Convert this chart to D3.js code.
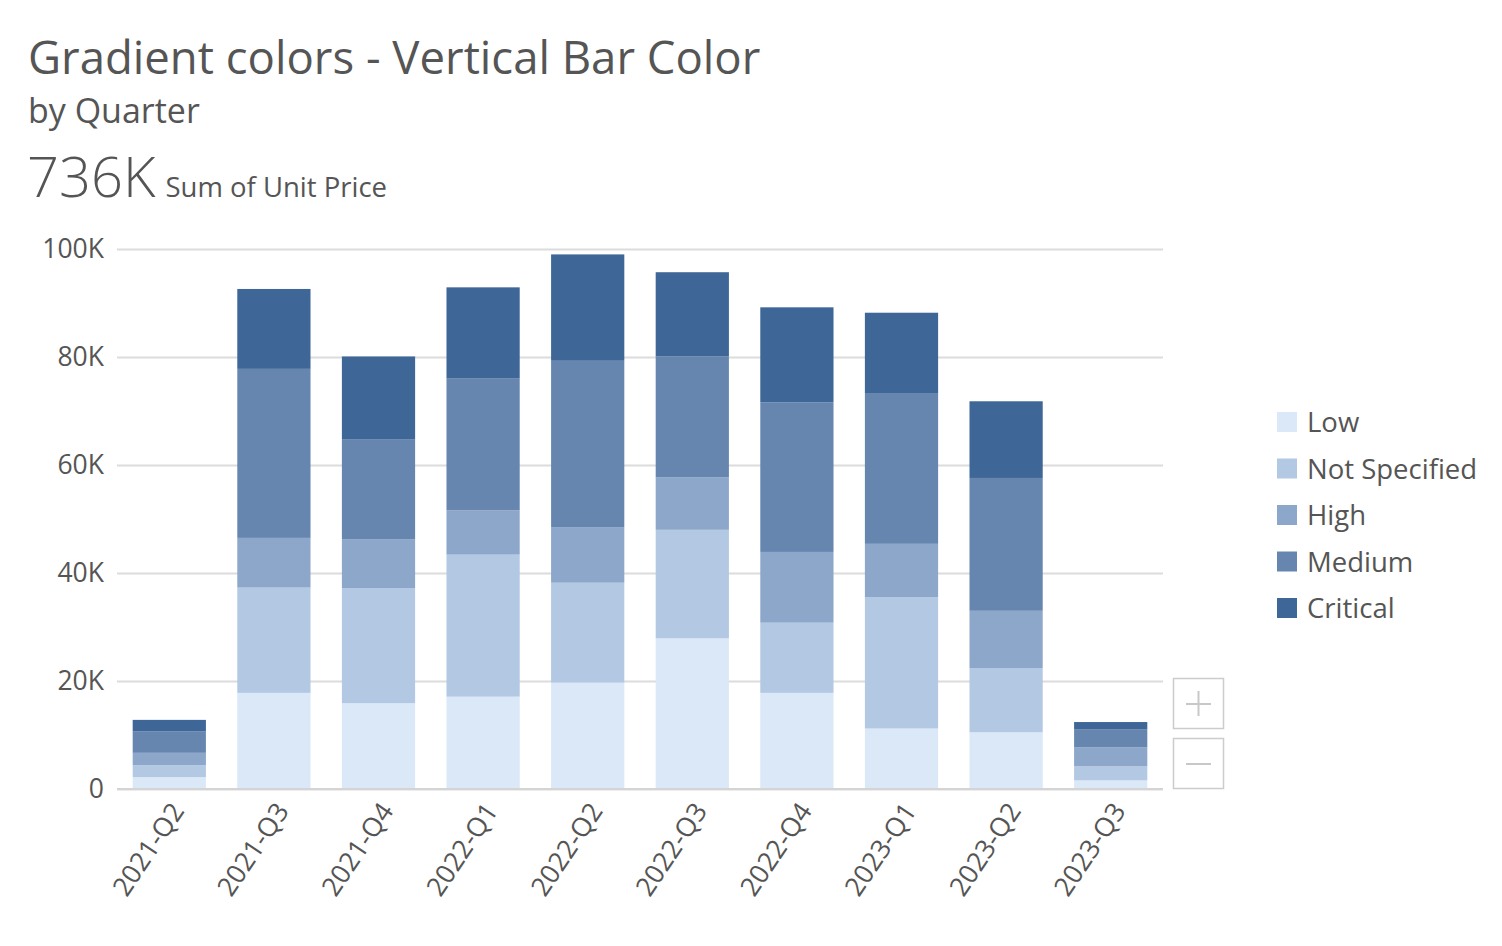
<!DOCTYPE html>
<html>
<head>
<meta charset="utf-8">
<script src="https://cdn.jsdelivr.net/npm/d3@7"></script>
<style>
  body { margin: 0; background: #fff; font-family: "Open Sans", sans-serif; }
</style>
</head>
<body>
<div id="chart"></div>
<script>
// dados (milhares)
const quarters = ["2021-Q2", "2021-Q3", "2021-Q4", "2022-Q1", "2022-Q2", "2022-Q3", "2022-Q4", "2023-Q1", "2023-Q2", "2023-Q3"];
const seriesNames = ["Low", "Not Specified", "High", "Medium", "Critical"];
const low          = [2.2, 17.8, 15.9, 17.1, 19.7, 27.9, 17.8, 11.2, 10.5, 1.6];
const notSpecified = [2.2, 19.5, 21.3, 26.3, 18.5, 20.1, 13.0, 24.3, 11.9, 2.6];
const high         = [2.3,  9.2,  9.0,  8.2, 10.3,  9.7, 13.1,  9.9, 10.6, 3.5];
const medium       = [4.0, 31.3, 18.5, 24.4, 30.8, 22.4, 27.7, 27.8, 24.6, 3.3];
const critical     = [2.1, 14.8, 15.4, 16.9, 19.7, 15.6, 17.6, 15.0, 14.2, 1.4];
const yTicks = [0, 20, 40, 60, 80, 100];

const width = 1502, height = 946;
const margin = { top: 249, right: 339, bottom: 157, left: 117 };

const svg = d3.select("#chart").append("svg")
  .attr("width", width)
  .attr("height", height);

const dataset = quarters.map((q, i) => ({
  quarter: q,
  "Low": low[i],
  "Not Specified": notSpecified[i],
  "High": high[i],
  "Medium": medium[i],
  "Critical": critical[i]
}));

const stack = d3.stack().keys(seriesNames)(dataset);

const x = d3.scaleBand()
  .domain(quarters)
  .range([margin.left, width - margin.right])
  .paddingInner(0.3)
  .paddingOuter(0.15);

const y = d3.scaleLinear()
  .domain([0, 100])
  .range([height - margin.bottom, margin.top]);

const color = d3.scaleOrdinal()
  .domain(seriesNames)
  .range(["#dae8f8", "#b3c8e2", "#8ca7c9", "#6686b0", "#3e6697"]);

// Títulos
svg.append("text").attr("x", 28).attr("y", 74)
  .style("font-size", "45.5px").style("fill", "#555").text("Gradient colors - Vertical Bar Color");
svg.append("text").attr("x", 28).attr("y", 123)
  .style("font-size", "34px").style("fill", "#555").text("by Quarter");
const kpi = svg.append("text").attr("x", 27).attr("y", 197).style("fill", "#555");
kpi.append("tspan").style("font-size", "56px").style("font-weight", 300).text("736K");
kpi.append("tspan").attr("dx", 10).style("font-size", "27.5px").text("Sum of Unit Price");

// Grade e eixo Y
const yAxis = svg.append("g")
  .attr("transform", `translate(${margin.left},0)`)
  .call(d3.axisLeft(y)
    .tickValues(yTicks)
    .tickSize(-(width - margin.left - margin.right))
    .tickPadding(13)
    .tickFormat(d => d === 0 ? "0" : d + "K"));
yAxis.select(".domain").remove();
yAxis.selectAll(".tick line").attr("stroke", "#dcdcdc").attr("stroke-width", 2);
yAxis.selectAll(".tick text")
  .style("font-size", "26.5px").style("font-family", "Open Sans").attr("fill", "#555");

// Barras empilhadas
svg.append("g").selectAll("g")
  .data(stack)
  .enter().append("g")
  .attr("fill", d => color(d.key))
  .selectAll("rect")
  .data(d => d)
  .enter().append("rect")
  .attr("x", d => x(d.data.quarter))
  .attr("y", d => y(d[1]))
  .attr("width", x.bandwidth())
  .attr("height", d => y(d[0]) - y(d[1]));

// linha base
svg.append("line")
  .attr("x1", margin.left).attr("x2", width - margin.right)
  .attr("y1", y(0)).attr("y2", y(0))
  .attr("stroke", "#d4d4d4").attr("stroke-width", 2);

// Eixo X (rótulos rotacionados)
svg.append("g").selectAll("text")
  .data(quarters)
  .enter().append("text")
  .attr("transform", d => `translate(${x(d) + x.bandwidth() / 2 + 16},${y(0) + 22}) rotate(-56)`)
  .attr("text-anchor", "end")
  .style("font-size", "26.5px")
  .style("fill", "#555")
  .text(d => d);

// Legenda
const legend = svg.append("g").attr("transform", "translate(1277,412)");
seriesNames.forEach((key, i) => {
  const g = legend.append("g").attr("transform", `translate(0,${i * 46.5})`);
  g.append("rect").attr("width", 20).attr("height", 20).attr("fill", color(key));
  g.append("text").attr("x", 30).attr("y", 20)
    .style("font-size", "27.5px").style("fill", "#555").text(key);
});

// botões de zoom
const zoomBtns = svg.append("g").attr("transform", "translate(1173,678)");
[0, 60].forEach((dy, i) => {
  const b = zoomBtns.append("g").attr("transform", `translate(0,${dy})`);
  b.append("rect").attr("x", 0.5).attr("y", 0.5).attr("width", 50).attr("height", 50)
    .attr("fill", "#fff").attr("stroke", "#ccc").attr("stroke-width", 1.5);
  b.append("line").attr("x1", 13).attr("x2", 38).attr("y1", 26).attr("y2", 26)
    .attr("stroke", "#c8c8c8").attr("stroke-width", 2);
  if (i === 0) {
    b.append("line").attr("x1", 25.5).attr("x2", 25.5).attr("y1", 13).attr("y2", 38)
      .attr("stroke", "#c8c8c8").attr("stroke-width", 2);
  }
});
</script>
</body>
</html>
